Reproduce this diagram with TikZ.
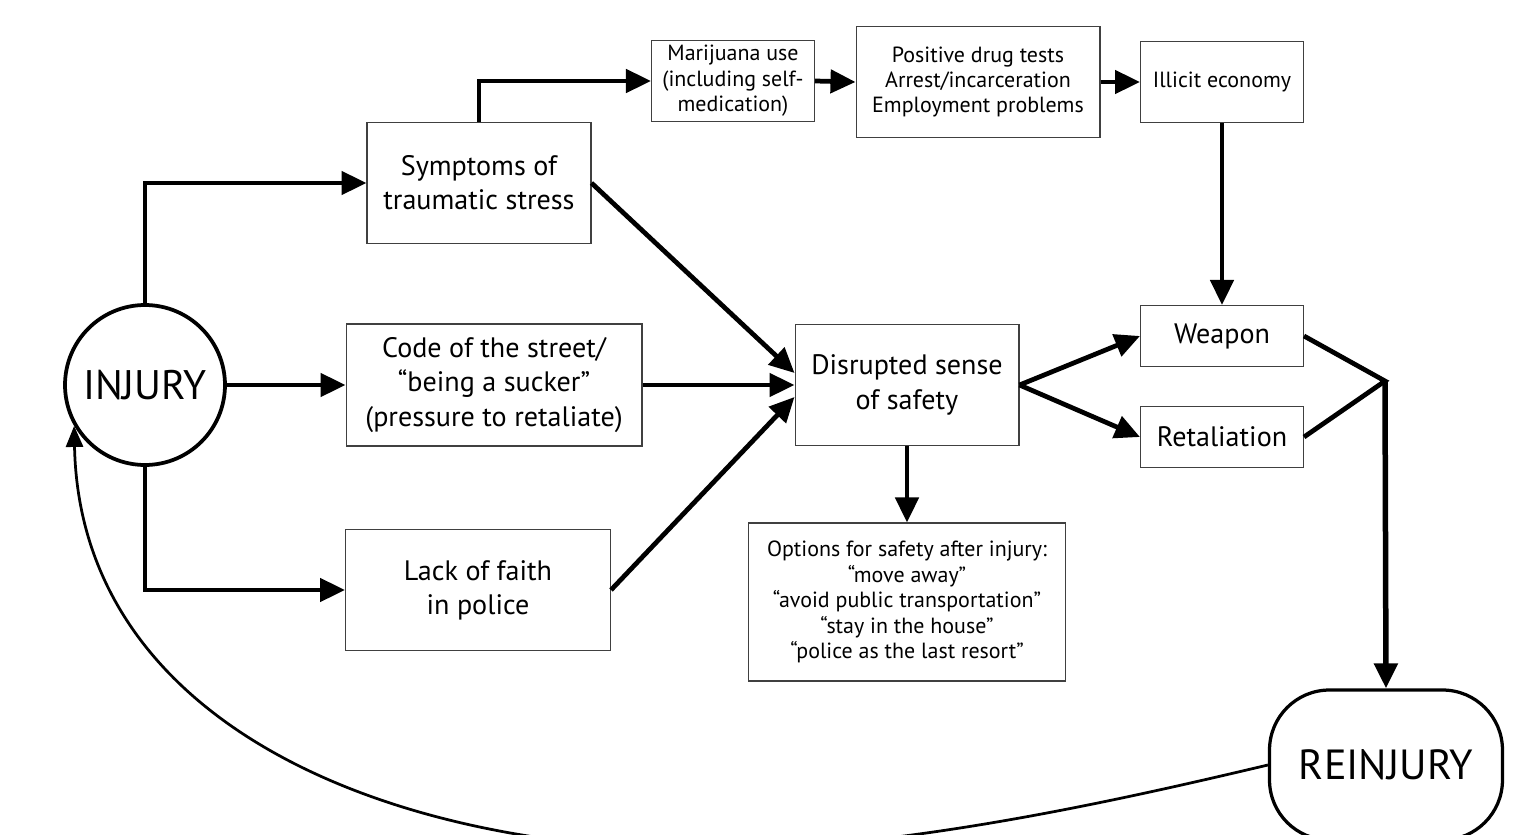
\documentclass[tikz,border=0pt]{standalone}
\usepackage{fontspec}
\setmainfont{PT Sans}
\usetikzlibrary{arrows.meta,positioning,calc}

\tikzset{
	box/.style={draw=black!75, line width=0.6pt, align=center, inner sep=0pt, font=\fontsize{16}{19.5}\selectfont},
	smallbox/.style={box, font=\fontsize{12.5}{14.5}\selectfont},
	link/.style={line width=0.095cm, -{Triangle[length=0.5cm,width=0.46cm]}},
	bar/.style={line width=0.095cm},
	loopback/.style={line width=0.055cm, -{Triangle[length=0.42cm,width=0.34cm]}}
}

\begin{document}
	\begin{tikzpicture}[x=0.02cm, y=-0.02cm]

		\useasboundingbox (0,0) rectangle (1516,835);
		\clip (0,0) rectangle (1516,835);

		\node[circle, draw, line width=0.075cm, minimum size=3.2cm, inner sep=0pt, font=\fontsize{23.5}{28}\selectfont] (inj) at (145,385) {INJURY};

		\node[box, minimum width=4.48cm, minimum height=2.42cm] (sym) at (479,183) {Symptoms of\\traumatic stress};
		\node[box, minimum width=5.92cm, minimum height=2.44cm] (code) at (494,385) {Code of the street/\\``being a sucker''\\(pressure to retaliate)};
		\node[box, minimum width=5.3cm, minimum height=2.42cm] (lack) at (478,590) {Lack of faith\\in police};
		\node[box, minimum width=4.48cm, minimum height=2.42cm] (dis) at (907,385) {Disrupted sense\\of safety};

		\node[smallbox, minimum width=3.26cm, minimum height=1.62cm] (mari) at (733,81) {Marijuana use\\(including self-\\medication)};
		\node[smallbox, minimum width=4.88cm, minimum height=2.22cm] (pos) at (978,82) {Positive drug tests\\Arrest/incarceration\\Employment problems};
		\node[smallbox, minimum width=3.26cm, minimum height=1.62cm] (ill) at (1222,82) {Illicit economy};

		\node[box, minimum width=3.26cm, minimum height=1.22cm] (wea) at (1222,336) {Weapon};
		\node[box, minimum width=3.26cm, minimum height=1.22cm] (ret) at (1222,437) {Retaliation};

		\node[smallbox, minimum width=6.34cm, minimum height=3.16cm] (opt) at (907,602) {Options for safety after injury:\\``move away''\\``avoid public transportation''\\``stay in the house''\\``police as the last resort''};

		\node[draw, line width=0.065cm, rounded corners=1.2cm, minimum width=4.66cm, minimum height=3cm, inner sep=0pt, font=\fontsize{24}{29}\selectfont] (rein) at (1386,765) {REINJURY};

		\draw[link] (inj.north) |- (sym.west);
		\draw[link] (inj.east) -- (code.west);
		\draw[link] (inj.south) |- (lack.west);

		\draw[link] (sym.north) |- (mari.west);
		\draw[link] (mari.east) -- (pos.west);
		\draw[link] (pos.east) -- (ill.west);
		\draw[link] (ill.south) -- (wea.north);

		\draw[link] (sym.east) -- ($(dis.west)+(0,-12)$);
		\draw[link] (code.east) -- (dis.west);
		\draw[link] (lack.east) -- ($(dis.west)+(0,12)$);

		\draw[link] (dis.east) -- (wea.west);
		\draw[link] (dis.east) -- (ret.west);
		\draw[link] (dis.south) -- (opt.north);

		\coordinate (jn) at (1385,381); %Junction
		\draw[bar] (wea.east) -- (jn) -- (ret.east);
		\draw[link, line width=0.11cm] (jn) -- (rein.north);

		\draw[loopback] (rein.west) .. controls (1120,800) and (900,850) .. (710,850) .. controls (380,850) and (80,720) .. (inj.210);

	\end{tikzpicture}
\end{document}
